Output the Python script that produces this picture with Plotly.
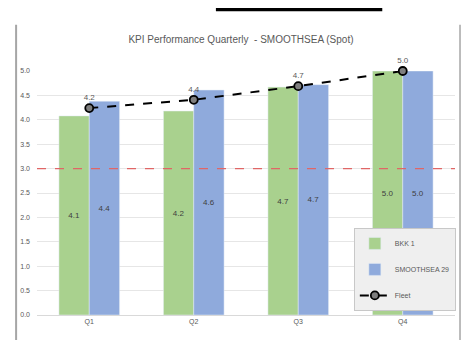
import plotly.graph_objects as go

# quarterly KPI values
quarters = ['Q1', 'Q2', 'Q3', 'Q4']
bkk1 = [4.08, 4.18, 4.67, 5.0]
smoothsea29 = [4.38, 4.61, 4.72, 5.0]
fleet = [4.24, 4.41, 4.69, 5.0]
target = 3.0
y_ticks = [0.0, 0.5, 1.0, 1.5, 2.0, 2.5, 3.0, 3.5, 4.0, 4.5, 5.0]

txt = dict(size=8, color='#404040')

fig = go.Figure()

fig.add_trace(go.Bar(
    x=quarters, y=bkk1, name='BKK 1', marker_color='#a9d18e',
    texttemplate='%{y:.1f}', textposition='inside', insidetextanchor='middle',
    textfont=txt, legendgroup='a'))
fig.add_trace(go.Bar(
    x=quarters, y=smoothsea29, name='SMOOTHSEA 29', marker_color='#8faadc',
    texttemplate='%{y:.1f}', textposition='inside', insidetextanchor='middle',
    textfont=txt, legendgroup='b'))
fig.add_trace(go.Scatter(
    x=quarters, y=fleet, name='Fleet', mode='lines+markers+text',
    line=dict(color='black', width=2, dash='dash'),
    marker=dict(symbol='circle', size=8, color='#7f7f7f', line=dict(color='black', width=1.8)),
    texttemplate='%{y:.1f}', textposition='top center', textfont=dict(size=8, color='#595959'),
    cliponaxis=False, legendgroup='c'))

# target line
fig.add_shape(type='line', xref='paper', x0=0, x1=1, y0=target, y1=target,
              line=dict(color='#e06666', width=1.2, dash='dash'))

# outer frame and top black bar from the screenshot
fig.add_shape(type='line', xref='paper', yref='paper', x0=-0.05, x1=-0.05, y0=-0.11, y1=1.19,
              line=dict(color='#a6a6a6', width=2))
fig.add_shape(type='line', xref='paper', yref='paper', x0=1.012, x1=1.012, y0=-0.11, y1=1.19,
              line=dict(color='#a6a6a6', width=1.5))
fig.add_shape(type='rect', xref='paper', yref='paper', x0=0.428, x1=0.826, y0=1.245, y1=1.26,
              fillcolor='black', line=dict(width=0))

fig.update_layout(
    width=466, height=332,
    margin=dict(l=22, r=19, t=63, b=25),
    paper_bgcolor='white', plot_bgcolor='white',
    font=dict(family='Liberation Sans', color='#595959'),
    title=dict(text='KPI Performance Quarterly  - SMOOTHSEA (Spot)', x=0.5, xref='container',
               y=0.905, yanchor='middle', font=dict(size=10, color='#595959')),
    barmode='group', bargap=0.42, bargroupgap=0,
    legend=dict(x=0.758, y=0.357, xanchor='left', yanchor='top',
                bgcolor='#efefef', bordercolor='#c8c8c8', borderwidth=1,
                font=dict(size=7, color='#595959'), traceorder='grouped',
                tracegroupgap=7),
    showlegend=True,
)
fig.update_xaxes(showgrid=False, showline=True, linecolor='#d9d9d9', ticks='',
                 tickfont=dict(size=7, color='#595959'))
fig.update_yaxes(range=[0, 5.0], tickvals=y_ticks, tickformat='.1f', showgrid=True,
                 gridcolor='#e6e6e6', zeroline=False, showline=False,
                 tickfont=dict(size=7, color='#595959'), ticklabelstandoff=6)

fig.write_html("out.html")
